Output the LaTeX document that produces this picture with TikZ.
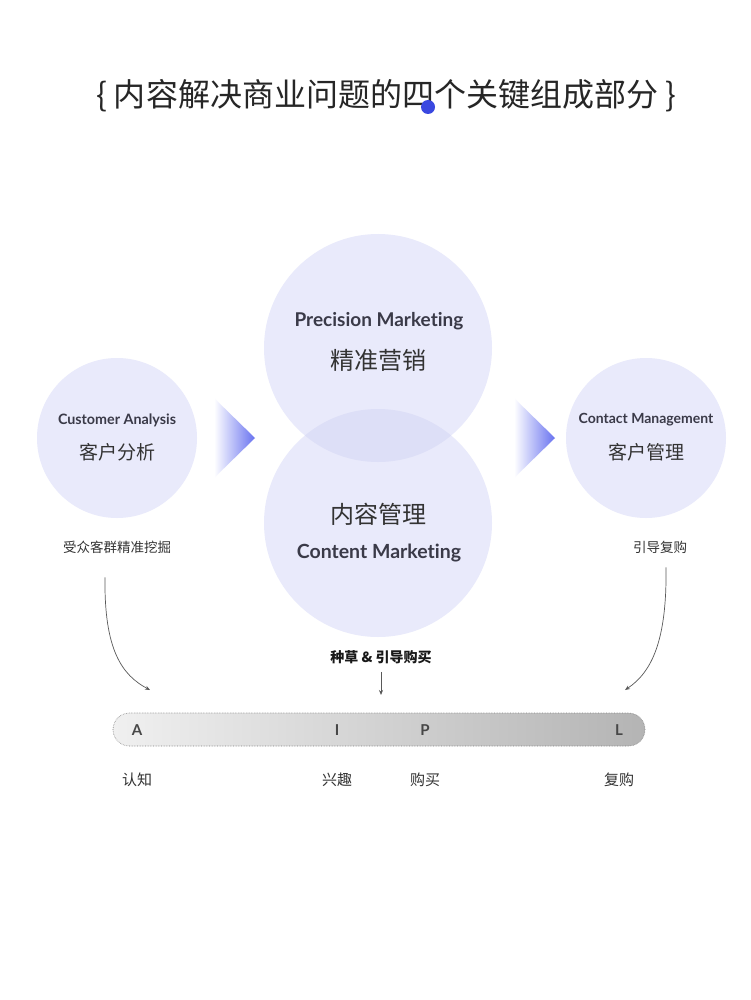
\documentclass[tikz,border=0pt]{standalone}
\usepackage{fontspec}
\setmainfont{Lato}[Ligatures=NoCommon]
\newfontfamily\cjk{Noto Sans CJK SC}
\usetikzlibrary{arrows.meta,shapes.geometric}
\definecolor{circ}{RGB}{233,234,251}
\definecolor{circov}{RGB}{221,223,247}
\definecolor{txt}{RGB}{51,51,51}
\definecolor{entxt}{RGB}{58,58,72}
\definecolor{tipblue}{RGB}{104,114,240}
\definecolor{dotblue}{RGB}{58,72,224}
\begin{document}
\begin{tikzpicture}[x=1pt,y=-1pt,
  bubble/.style={circle,fill=circ,inner sep=0pt},
  entitle/.style={font=\bfseries\fontsize{#1}{#1}\selectfont,text=entxt,inner sep=0pt},
  cntitle/.style={font=\cjk\fontsize{#1}{#1}\selectfont,text=txt,inner sep=0pt},
  curved/.style={draw=black!65,line width=0.7pt,-{Stealth[length=5pt,width=4pt]}},
  stage/.style={font=\bfseries\fontsize{15}{15}\selectfont,text=black!72,inner sep=0pt},
  stagelabel/.style={font=\cjk\fontsize{15}{15}\selectfont,text=txt,inner sep=0pt}]
\useasboundingbox[fill=white] (0,0) rectangle (750,1000);

% title
\node[cntitle=32,text=black!85] (title) at (386,96) {\{ 内容解决商业问题的四个关键组成部分 \}};
\fill[dotblue] (428,107) circle (7);

% circles
\node[bubble,minimum size=228pt] (top) at (378,348) {};
\node[bubble,minimum size=228pt] (bot) at (378,523) {};
\begin{scope}
  \clip (378,348) circle (114);
  \fill[circov] (378,523) circle (114);
\end{scope}
\node[bubble,minimum size=160pt] (left) at (117,438) {};
\node[bubble,minimum size=160pt] (right) at (646,438) {};

% gradient triangles
\shade[left color=white,right color=tipblue] (214,398) -- (255,438) -- (214,478) -- cycle;
\shade[left color=white,right color=tipblue] (514,398) -- (555,438) -- (514,478) -- cycle;

% texts in circles
\node[entitle=19] (pm) at (379,321) {Precision Marketing};
\node[cntitle=24] (pmcn) at (378,360) {精准营销};
\node[cntitle=24] (cmcn) at (378,514) {内容管理};
\node[entitle=19.5] (cm) at (379,553) {Content Marketing};
\node[entitle=14.3] (ca) at (117,420) {Customer Analysis};
\node[entitle=14] (ctm) at (646,420) {Contact Management};
\node[cntitle=19] (cacn) at (117,452) {客户分析};
\node[cntitle=19] (ctmcn) at (646,452) {客户管理};

% side labels
\node[cntitle=13.5] (lsub) at (117,547) {受众客群精准挖掘};
\node[cntitle=13.5] (rsub) at (660,547) {引导复购};
\node[font=\cjk\bfseries\fontsize{14}{14}\selectfont,text=black!90,inner sep=0pt] (mid) at (381,657) {种草 \& 引导购买};

% bar
\shade[left color={rgb,255:red,240;green,240;blue,240},right color={rgb,255:red,180;green,180;blue,180},rounded corners=16.5pt] (113,713) rectangle (645,746);
\draw[black!50,densely dotted,line width=0.6pt,rounded corners=16.5pt] (113,713) rectangle (645,746);
\node[stage] (A) at (137,730) {A};
\node[stage] (I) at (337,730) {I};
\node[stage] (P) at (425,730) {P};
\node[stage] (L) at (619,730) {L};
\node[stagelabel] (a2) at (137,780) {认知};
\node[stagelabel] (i2) at (337,780) {兴趣};
\node[stagelabel] (p2) at (425,780) {购买};
\node[stagelabel] (l2) at (619,780) {复购};

% arrows
\coordinate (lend) at (150,690);
\coordinate (rend) at (625,690);
\coordinate (mend) at (381,695);
\draw[curved] (lsub.south -| 105,0) ++(0,24) .. controls (104,650) and (122,675) .. (lend);
\draw[curved] (rsub.south -| 666,0) ++(0,14) .. controls (667,640) and (652,672) .. (rend);
\draw[curved] (mid.south) ++(0,8) -- (mend);
\end{tikzpicture}
\end{document}
